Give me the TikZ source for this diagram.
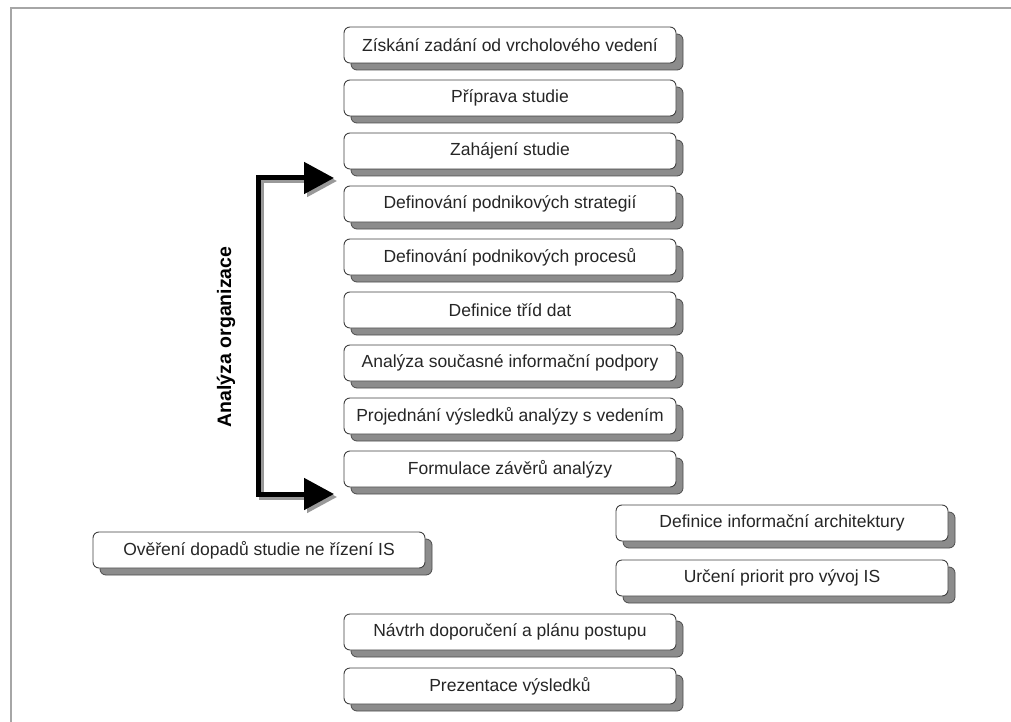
\documentclass[tikz,border=0pt]{standalone}
\usepackage{fontspec}
\setmainfont{Liberation Sans}
\usetikzlibrary{shadows,arrows.meta}
\tikzset{
  stepbox/.style={draw=black!75, fill=white, rounded corners=6pt, line width=0.9pt,
    minimum width=332pt, minimum height=36pt, inner sep=0pt,
    font=\fontsize{17.5pt}{20pt}\selectfont, text=black!85,
    drop shadow={shadow xshift=7pt, shadow yshift=-7pt, opacity=1, fill=black!45, draw=black!70, line width=0.8pt}},
  bracket/.style={line width=5pt, -{Triangle[length=30pt,width=31pt]}},
  bracketshadow/.style={line width=5pt, draw=black!40, -{Triangle[length=30pt,width=31pt]}},
  framestyle/.style={draw=black!35, line width=2.5pt}
}
\begin{document}
\begin{tikzpicture}[x=1pt,y=-1pt]
\useasboundingbox (0,0) rectangle (1011,722);
\draw[framestyle] (11,722) -- (11,8) -- (1011,8);

\node[stepbox] (n1) at (510,45) {Získání zadání od vrcholového vedení};
\node[stepbox] (n2) at (510,98) {Příprava studie};
\node[stepbox] (n3) at (510,151) {Zahájení studie};
\node[stepbox] (n4) at (510,204) {Definování podnikových strategií};
\node[stepbox] (n5) at (510,257) {Definování podnikových procesů};
\node[stepbox] (n6) at (510,310) {Definice tříd dat};
\node[stepbox] (n7) at (510,363) {Analýza současné informační podpory};
\node[stepbox] (n8) at (510,416) {Projednání výsledků analýzy s vedením};
\node[stepbox] (n9) at (510,469) {Formulace závěrů analýzy};
\node[stepbox] (r1) at (782,523) {Definice informační architektury};
\node[stepbox] (r2) at (782,578) {Určení priorit pro vývoj IS};
\node[stepbox] (l1) at (259,550) {Ověření dopadů studie ne řízení IS};
\node[stepbox] (b1) at (510,632) {Návtrh doporučení a plánu postupu};
\node[stepbox] (b2) at (510,686) {Prezentace výsledků};

\coordinate (tA) at (334,178);
\coordinate (tB) at (334,494);
\coordinate (cA) at (258,178);
\coordinate (cB) at (258,494);
\coordinate (sA) at (337,181);
\coordinate (sB) at (337,497);
\coordinate (sC) at (261,181);
\coordinate (sD) at (261,497);

\draw[bracketshadow] (sD) -- (sC) -- (sA);
\draw[bracketshadow] (sC) -- (sD) -- (sB);
\draw[bracket] (cB) -- (cA) -- (tA);
\draw[bracket] (cA) -- (cB) -- (tB);

\node[rotate=90, font=\bfseries\fontsize{19.5pt}{22pt}\selectfont] (lab) at (226,337) {Analýza organizace};
\end{tikzpicture}
\end{document}
